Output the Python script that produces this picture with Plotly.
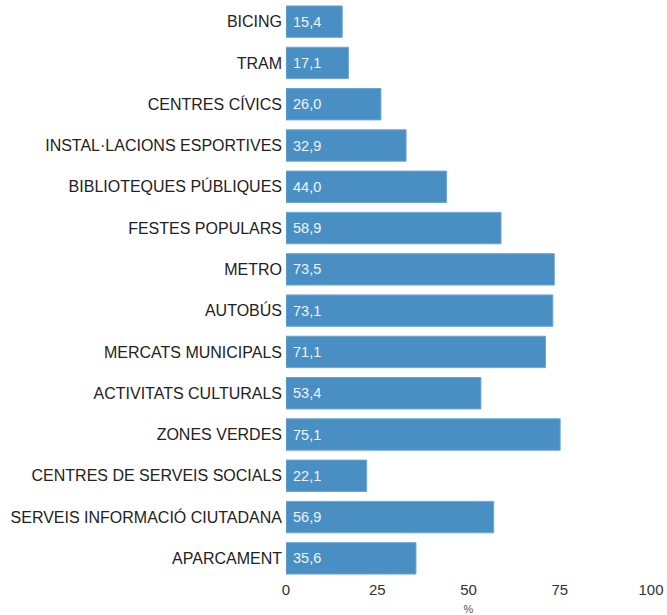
import plotly.graph_objects as go

categories = ["BICING", "TRAM", "CENTRES CÍVICS", "INSTAL·LACIONS ESPORTIVES",
              "BIBLIOTEQUES PÚBLIQUES", "FESTES POPULARS", "METRO", "AUTOBÚS",
              "MERCATS MUNICIPALS", "ACTIVITATS CULTURALS", "ZONES VERDES",
              "CENTRES DE SERVEIS SOCIALS", "SERVEIS INFORMACIÓ CIUTADANA", "APARCAMENT"]
values = [15.4, 17.1, 26.0, 32.9, 44.0, 58.9, 73.5, 73.1, 71.1, 53.4, 75.1, 22.1, 56.9, 35.6]
x_ticks = [0, 25, 50, 75, 100]

labels = [" " + f"{v:.1f}".replace(".", ",") for v in values]

fig = go.Figure(go.Bar(
    y=categories, x=values, orientation="h",
    text=labels, textposition="inside", insidetextanchor="start",
    textfont=dict(color="#eef4fa", size=14.5, family="Liberation Sans"),
    marker=dict(color="#4a8fc3", line=dict(color="#6aa6d3", width=1)),
    width=0.76, cliponaxis=False,
))
fig.update_layout(
    width=667, height=615,
    margin=dict(l=286, r=16, t=1, b=36, autoexpand=False),
    plot_bgcolor="white", paper_bgcolor="white",
    font=dict(family="Liberation Sans", size=16, color="#222222"),
    showlegend=False,
    xaxis=dict(range=[0, 100], tickvals=x_ticks, showgrid=False, zeroline=False,
               showline=False, ticks="", tickfont=dict(size=15, color="#333333"),
               title=dict(text="%", font=dict(size=11, color="#555555"), standoff=10),
               automargin=False),
    yaxis=dict(categoryorder="array", categoryarray=categories, range=[13.5, -0.5],
               showgrid=False, zeroline=False, showline=False, ticks="",
               tickfont=dict(size=16, color="#222222"), automargin=False,
               ticklabelstandoff=3),
)
fig.write_html(
    "out.html",
    config={"displayModeBar": False},
    post_script="document.body.style.margin='0';document.body.style.overflow='hidden';",
)
